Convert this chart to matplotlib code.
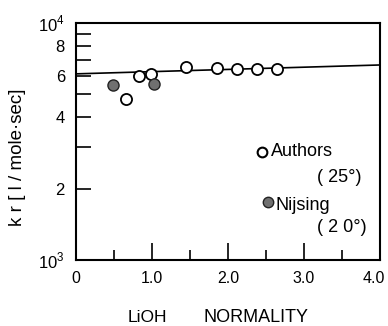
import matplotlib.pyplot as plt
from matplotlib.ticker import FixedLocator
from matplotlib.transforms import ScaledTranslation

plt.rcParams['font.family'] = ['Liberation Sans', 'DejaVu Sans']
plt.rcParams['mathtext.fontset'] = 'custom'
plt.rcParams['mathtext.rm'] = 'Liberation Sans'

# rate constant vs LiOH normality
authors_x = [0.66, 0.83, 0.99, 1.45, 1.86, 2.12, 2.38, 2.64]
authors_k = [4.77e3, 5.98e3, 6.08e3, 6.52e3, 6.48e3, 6.40e3, 6.40e3, 6.38e3]
nijsing_x = [0.49, 1.02]
nijsing_k = [5.47e3, 5.55e3]
fit_x = [0.0, 4.0]
fit_k = [6.1e3, 6.65e3]

x_ticks = [0, 1, 2, 3, 4]
x_labels = ["0", "1.0", "2.0", "3.0", "4.0"]
y_ticks = [1e3, 2e3, 4e3, 6e3, 8e3, 1e4]
y_labels = [r"$10^3$", "2", "4", "6", "8", r"$10^4$"]
y_minor = [3e3, 5e3, 7e3, 9e3]

fig = plt.figure(figsize=(3.88, 3.26), dpi=100)
ax = fig.add_axes([0.196, 0.2025, 0.783, 0.727])

ax.plot(fit_x, fit_k, color="black", lw=1.2, zorder=1)
ax.plot(authors_x, authors_k, "o", ms=8, mfc="white", mec="black", mew=1.3,
        ls="none", zorder=3)
ax.plot(nijsing_x, nijsing_k, "o", ms=8, mfc="#707070", mec="#222222", mew=1.0,
        ls="none", zorder=3)

ax.set_yscale("log")
ax.set_xlim(0, 4)
ax.set_ylim(1e3, 1e4)

ax.xaxis.set_major_locator(FixedLocator(x_ticks))
ax.set_xticklabels(x_labels)
ax.xaxis.set_minor_locator(FixedLocator([0.5, 1.5, 2.5, 3.5]))
ax.yaxis.set_major_locator(FixedLocator(y_ticks))
ax.set_yticklabels(y_labels)
ax.yaxis.set_minor_locator(FixedLocator(y_minor))

ax.tick_params(axis="x", which="major", direction="in", length=12, width=1.2,
               labelsize=11.5, pad=8)
ax.tick_params(axis="x", which="minor", direction="in", length=7.5, width=1.2)
ax.tick_params(axis="y", which="both", direction="in", length=11, width=1.2,
               labelsize=12, pad=8)
for s in ax.spines.values():
    s.set_linewidth(1.5)

# keep the last x label inside the figure
last = ax.get_xticklabels()[-1]
last.set_transform(last.get_transform() + ScaledTranslation(-6 / 100, 0, fig.dpi_scale_trans))

# legend drawn by hand
ax.plot([0.612], [0.456], "o", ms=7, mfc="white", mec="black", mew=1.5,
        transform=ax.transAxes, clip_on=False)
ax.text(0.642, 0.456, "Authors", transform=ax.transAxes, fontsize=13,
        va="center", ha="left")
ax.text(0.865, 0.35, "( 25°)", transform=ax.transAxes, fontsize=13,
        va="center", ha="center")
ax.plot([0.632], [0.245], "o", ms=7.5, mfc="#707070", mec="#222222", mew=1.0,
        transform=ax.transAxes, clip_on=False)
ax.text(0.657, 0.232, "Nijsing", transform=ax.transAxes, fontsize=13,
        va="center", ha="left")
ax.text(0.875, 0.139, "( 2 0°)", transform=ax.transAxes, fontsize=13,
        va="center", ha="center")

fig.text(18 / 388, 1 - 157 / 326, "k r [ l / mole·sec]", rotation=90,
         fontsize=13.5, ha="center", va="center")
fig.text(147 / 388, 1 - 318 / 326, "LiOH", fontsize=12.5, ha="center", va="center")
fig.text(256 / 388, 1 - 318 / 326, "NORMALITY", fontsize=13, ha="center",
         va="center")

fig.savefig("out.png", dpi=100)
